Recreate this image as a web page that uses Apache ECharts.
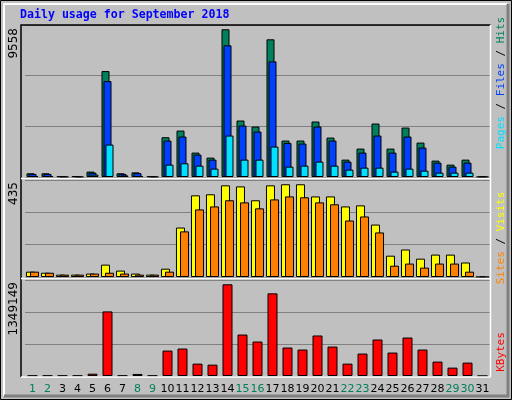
<!DOCTYPE html>
<html>
<head>
<meta charset="utf-8">
<script src="https://cdn.jsdelivr.net/npm/echarts@6/dist/echarts.min.js"></script>
<style>
  html, body { margin: 0; padding: 0; background: #c0c0c0; }
  #chart { width: 512px; height: 400px; }
</style>
</head>
<body>
<div id="chart"></div>
<script>
// daily usage, september 2018
var days = ['1','2','3','4','5','6','7','8','9','10','11','12','13','14','15','16','17','18','19','20','21','22','23','24','25','26','27','28','29','30','31'];
var weekend = ['1','2','8','9','15','16','22','23','29','30'];

var hits  = [240,240,50,50,350,6855,240,300,50,2573,3006,1579,1254,9558,3655,3265,8909,2357,2357,3590,2552,1124,1838,3460,1838,3200,2227,1060,800,1124,0];
var files = [200,200,30,30,280,6206,200,250,30,2357,2617,1449,1124,8520,3330,2941,7482,2206,2162,3265,2357,995,1579,2681,1579,2617,1903,930,670,930,0];
var pages = [60,60,10,10,150,2098,100,60,10,800,887,735,541,2681,1124,1124,1968,670,735,995,735,476,605,605,346,541,411,281,281,281,0];

var sites  = [25,20,11,11,16,58,30,16,11,39,232,383,388,430,425,360,430,435,435,378,378,331,336,246,100,129,86,105,105,68,0];
var visits = [25,20,11,11,16,20,16,11,11,25,214,317,331,360,350,322,364,378,374,350,341,265,284,209,53,63,44,63,63,25,0];

var kbytes = [5000,5000,5000,5000,34000,950000,5000,30000,5000,374000,404000,182000,167000,1349149,610000,507000,1216000,419000,389000,596000,433000,182000,330000,537000,345000,566000,389000,212000,123000,197000,0];

var maxHits = 9558, maxSites = 435, maxKb = 1349149;
var topMax = 9836, midMax = 455, botMax = 1412400;

var chart = echarts.init(document.getElementById('chart'));

var grids = [
  { left: 25, right: 22, top: 25, height: 152 },
  { left: 25, right: 22, top: 180, height: 97 },
  { left: 25, right: 22, top: 280, height: 96 }
];

function xAx(i, show) {
  return {
    type: 'category', gridIndex: i, data: days,
    axisLine: { show: false }, axisTick: { show: false },
    axisLabel: show ? {
      show: true, margin: 8, fontSize: 11, fontFamily: 'DejaVu Sans', interval: 0,
      color: function (v) { return weekend.indexOf(v) >= 0 ? '#00805c' : '#000'; }
    } : { show: false }
  };
}
function yAx(i, max) {
  return {
    type: 'value', gridIndex: i, min: 0, max: max, interval: max / 3,
    axisLabel: { show: false }, axisLine: { show: false }, axisTick: { show: false },
    splitLine: { show: true, lineStyle: { color: '#808080', width: 1 } }
  };
}
function bar(data, color, i, w, gap) {
  return {
    type: 'bar', data: data, xAxisIndex: i, yAxisIndex: i,
    barWidth: w, barGap: gap, animation: false,
    itemStyle: { color: color, borderColor: '#000', borderWidth: 1 }
  };
}

function sideText(x, yc, parts) {
  var rich = {};
  var str = parts.map(function (p, k) {
    rich['p' + k] = { fill: p[1], fontFamily: 'DejaVu Sans Mono', fontSize: 11 };
    return '{p' + k + '|' + p[0] + '}';
  }).join('');
  return { type: 'text', x: x, y: yc, rotation: Math.PI / 2,
    style: { text: str, rich: rich, align: 'center', verticalAlign: 'middle' } };
}
function leftText(y, txt) {
  return { type: 'text', x: 14, y: y, rotation: Math.PI / 2,
    style: { text: txt, fill: '#000', fontFamily: 'DejaVu Sans', fontSize: 12,
      align: 'right', verticalAlign: 'middle' } };
}

chart.setOption({
  backgroundColor: '#c0c0c0',
  animation: false,
  grid: grids,
  xAxis: [xAx(0, false), xAx(1, false), xAx(2, true)],
  yAxis: [yAx(0, topMax), yAx(1, midMax), yAx(2, botMax)],
  series: [
    bar(hits, '#00805c', 0, 8, '-75%'),
    bar(files, '#0040ff', 0, 8, '-75%'),
    bar(pages, '#00e0ff', 0, 8, '-75%'),
    bar(sites, '#ffff00', 1, 9, '-55%'),
    bar(visits, '#ff8000', 1, 9, '-55%'),
    bar(kbytes, '#ff0000', 2, 10, '0%')
  ],
  graphic: [
    // frame
    { type: 'rect', z: -10, shape: { x: 0.5, y: 0.5, width: 511, height: 399 },
      style: { fill: '#c0c0c0', stroke: '#000', lineWidth: 1 } },
    { type: 'polyline', z: -9, shape: { points: [[4, 396], [4, 4], [507, 4]] },
      style: { stroke: '#fff', lineWidth: 2, fill: null } },
    { type: 'polyline', z: -9, shape: { points: [[508, 4], [508, 396], [4, 396]] },
      style: { stroke: '#808080', lineWidth: 3, fill: null } },
    // panels
    { type: 'polyline', z: 10, shape: { points: [[21, 377], [21, 25], [490.5, 25]] },
      style: { stroke: '#000', lineWidth: 1.5, fill: null } },
    { type: 'line', z: 10, shape: { x1: 490.5, y1: 25, x2: 490.5, y2: 377 },
      style: { stroke: '#fff', lineWidth: 1.5 } },
    { type: 'line', z: 10, shape: { x1: 21, y1: 178.5, x2: 490.5, y2: 178.5 },
      style: { stroke: '#fff', lineWidth: 1.5 } },
    { type: 'line', z: 10, shape: { x1: 21, y1: 278.5, x2: 490.5, y2: 278.5 },
      style: { stroke: '#fff', lineWidth: 1.5 } },
    { type: 'line', z: 10, shape: { x1: 21, y1: 377, x2: 490.5, y2: 377 },
      style: { stroke: '#fff', lineWidth: 1.5 } },
    // title
    { type: 'text', x: 20, y: 15,
      style: { text: 'Daily usage for September 2018', fill: '#0000ff',
        fontFamily: 'DejaVu Sans Mono', fontWeight: 'bold', fontSize: 11.6, verticalAlign: 'middle' } },
    leftText(28, String(maxHits)),
    leftText(182, String(maxSites)),
    leftText(282, String(maxKb)),
    sideText(501, 83, [['Pages', '#00e0ff'], [' / ', '#000'], ['Files', '#0040ff'], [' / ', '#000'], ['Hits', '#00805c']]),
    sideText(501, 238, [['Sites', '#ff8000'], [' / ', '#000'], ['Visits', '#ffff00']]),
    sideText(501, 352, [['KBytes', '#ff0000']])
  ]
});
</script>
</body>
</html>
